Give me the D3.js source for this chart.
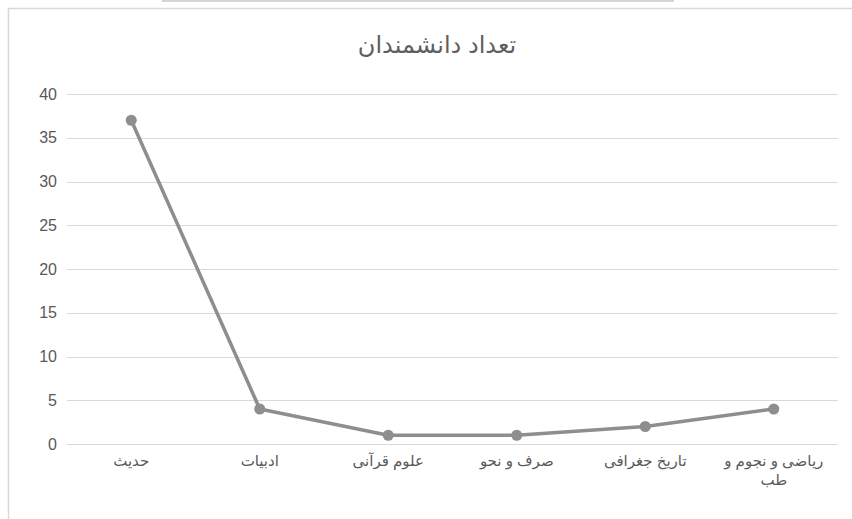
<!DOCTYPE html>
<html>
<head>
<meta charset="utf-8">
<script src="https://cdn.jsdelivr.net/npm/d3@7"></script>
<style>
  body { margin: 0; background: #fff; }
  svg { display: block; }
  .axis text { font-family: "Liberation Sans", "DejaVu Sans", sans-serif; fill: #595959; }
</style>
</head>
<body>
<div id="chart"></div>
<script>
// data
var categories = ["حدیث", "ادبیات", "علوم قرآنی", "صرف و نحو", "تاریخ جغرافی", "ریاضی و نجوم و طب"];
var counts = [37, 4, 1, 1, 2, 4];
var yTicks = [0, 5, 10, 15, 20, 25, 30, 35, 40];
var title = "تعداد دانشمندان";

var width = 852, height = 519;
var margin = {left: 67, right: 14, top: 94, bottom: 75};

var svg = d3.select("#chart").append("svg")
  .attr("width", width)
  .attr("height", height);

// strip at the very top and the chart frame
svg.append("rect")
  .attr("x", 162).attr("y", 0)
  .attr("width", 512).attr("height", 2)
  .attr("fill", "#d4d4d4");

svg.append("path")
  .attr("d", "M8.5," + height + "V8.5H" + width)
  .attr("fill", "none")
  .attr("stroke", "#d9d9d9")
  .attr("stroke-width", 1.5);

var x = d3.scaleBand()
  .domain(categories)
  .range([margin.left, width - margin.right]);

var y = d3.scaleLinear()
  .domain([0, 40])
  .range([height - margin.bottom, margin.top]);

// gridlines
svg.append("g")
  .selectAll("line")
  .data(yTicks)
  .enter().append("line")
  .attr("x1", margin.left)
  .attr("x2", width - margin.right)
  .attr("y1", function(d) { return Math.round(y(d)) + 0.5; })
  .attr("y2", function(d) { return Math.round(y(d)) + 0.5; })
  .attr("stroke", "#d9d9d9")
  .attr("stroke-width", 1);

// y axis labels
var yAxis = svg.append("g")
  .attr("class", "axis")
  .attr("transform", "translate(" + margin.left + ",0)")
  .call(d3.axisLeft(y).tickValues(yTicks).tickSize(0).tickPadding(10));
yAxis.select(".domain").remove();
yAxis.selectAll("text").style("font-size", "16px");

// x axis labels
var xAxis = svg.append("g")
  .attr("class", "axis")
  .attr("transform", "translate(0," + (height - margin.bottom) + ")")
  .call(d3.axisBottom(x).tickSize(0).tickPadding(11));
xAxis.select(".domain").remove();
xAxis.selectAll("text")
  .style("font-size", "15px")
  .call(wrap, x.bandwidth() - 10);

function wrap(sel, maxW) {
  sel.each(function() {
    var t = d3.select(this);
    var words = t.text().split(" ");
    var yAttr = t.attr("y"), dy = t.attr("dy");
    t.text(null);
    var line = [], n = 0;
    var span = t.append("tspan").attr("x", 0).attr("y", yAttr).attr("dy", dy);
    words.forEach(function(w) {
      line.push(w);
      span.text(line.join(" "));
      if (span.node().getComputedTextLength() > maxW && line.length > 1) {
        line.pop();
        span.text(line.join(" "));
        line = [w];
        n++;
        span = t.append("tspan").attr("x", 0).attr("y", yAttr)
          .attr("dy", (n * 1.3 + parseFloat(dy)) + "em").text(w);
      }
    });
  });
}

// line and markers
var pts = categories.map(function(c, i) { return {c: c, v: counts[i]}; });

var line = d3.line()
  .x(function(d) { return x(d.c) + x.bandwidth() / 2; })
  .y(function(d) { return y(d.v); });

svg.append("path")
  .datum(pts)
  .attr("d", line)
  .attr("fill", "none")
  .attr("stroke", "#8e8e8e")
  .attr("stroke-width", 3.5)
  .attr("stroke-linejoin", "round");

svg.append("g")
  .selectAll("circle")
  .data(pts)
  .enter().append("circle")
  .attr("cx", function(d) { return x(d.c) + x.bandwidth() / 2; })
  .attr("cy", function(d) { return y(d.v); })
  .attr("r", 5.5)
  .attr("fill", "#8e8e8e");

// title
svg.append("text")
  .attr("x", 437)
  .attr("y", 53)
  .attr("text-anchor", "middle")
  .style("font-family", "\"Liberation Sans\", \"DejaVu Sans\", sans-serif")
  .style("font-size", "24px")
  .style("fill", "#5f5f5f")
  .text(title);
</script>
</body>
</html>
